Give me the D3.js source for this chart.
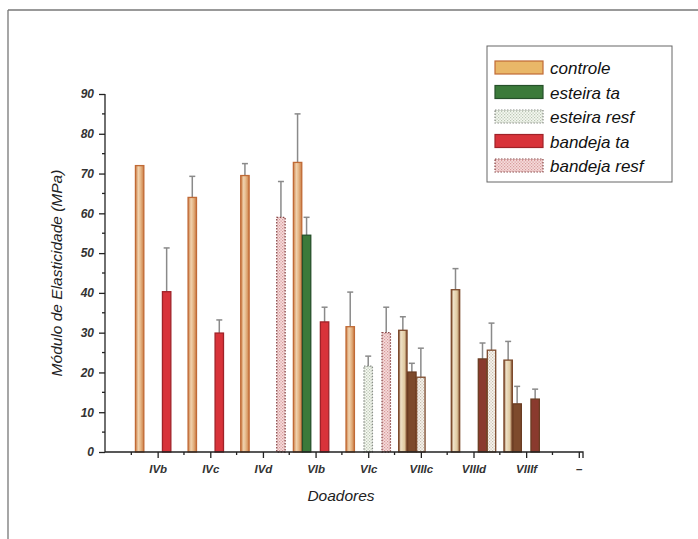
<!DOCTYPE html>
<meta charset="utf-8">
<style>
  body { margin: 0; background: #fff; }
  svg { font-family: "Liberation Sans", Arial, sans-serif; }
  .axis path, .axis line { stroke: #222; stroke-width: 1.3px; }
  .axis text { font-style: italic; font-weight: bold; fill: #333; }
  .errbar { stroke: #8a8a8a; stroke-width: 1.5px; }
</style>
<body>
<svg width="698" height="539"></svg>
<script src="https://d3js.org/d3.v7.min.js"></script>
<script>

// donors (x categories) and the extra empty slot at the end
var categories = ["IVb", "IVc", "IVd", "VIb", "VIc", "VIIIc", "VIIId", "VIIIf"];
var tickLabels = ["IVb", "IVc", "IVd", "VIb", "VIc", "VIIIc", "VIIId", "VIIIf", "–"];
var seriesNames = ["controle", "esteira ta", "esteira resf", "bandeja ta", "bandeja resf"];

// values in MPa, null = not measured
var controle       = [72, 64, 69.5, 72.8, 31.5, 30.6, 40.8, 23.1];
var controleErr    = [0, 5.3, 3, 12.2, 8.7, 3.4, 5.3, 4.7];
var esteiraTa      = [null, null, null, 54.5, null, 20.1, null, 12.1];
var esteiraTaErr   = [null, null, null, 4.5, null, 2.2, null, 4.4];
var esteiraResf    = [null, null, null, null, 21.6, 18.8, null, null];
var esteiraResfErr = [null, null, null, null, 2.5, 7.3, null, null];
var bandejaTa      = [40.3, 29.9, null, 32.7, null, null, 23.4, 13.3];
var bandejaTaErr   = [11, 3.3, null, 3.7, null, null, 4, 2.5];
var bandejaResf    = [null, null, 59, null, 30, null, 25.6, null];
var bandejaResfErr = [null, null, 9, null, 6.4, null, 6.8, null];

var yTicks = [0, 10, 20, 30, 40, 50, 60, 70, 80, 90];

var seriesValues = [controle, esteiraTa, esteiraResf, bandejaTa, bandejaResf];
var seriesErrors = [controleErr, esteiraTaErr, esteiraResfErr, bandejaTaErr, bandejaResfErr];

const svg = d3.select("svg");

// page frame (scanned figure border)
svg.append("line").attr("x1", 8).attr("y1", 10).attr("x2", 698).attr("y2", 10)
  .attr("stroke", "#777").attr("stroke-width", 1.3);
svg.append("line").attr("x1", 8).attr("y1", 10).attr("x2", 8).attr("y2", 539)
  .attr("stroke", "#777").attr("stroke-width", 1.3);

// patterns and gradients
const defs = svg.append("defs");

const grad = defs.append("linearGradient").attr("id", "ctrlGrad")
  .attr("x1", "0").attr("x2", "1").attr("y1", "0").attr("y2", "0");
grad.append("stop").attr("offset", "0%").attr("stop-color", "#cc7d44");
grad.append("stop").attr("offset", "35%").attr("stop-color", "#f0d2ae");
grad.append("stop").attr("offset", "60%").attr("stop-color", "#e6b98a");
grad.append("stop").attr("offset", "100%").attr("stop-color", "#cc7d44");

const gradB = defs.append("linearGradient").attr("id", "ctrlGradBrown")
  .attr("x1", "0").attr("x2", "1").attr("y1", "0").attr("y2", "0");
gradB.append("stop").attr("offset", "0%").attr("stop-color", "#7d4a2c");
gradB.append("stop").attr("offset", "25%").attr("stop-color", "#efe2c8");
gradB.append("stop").attr("offset", "70%").attr("stop-color", "#e0c9a0");
gradB.append("stop").attr("offset", "100%").attr("stop-color", "#7d4a2c");

function dots(id, bg, dot) {
  const p = defs.append("pattern").attr("id", id)
    .attr("width", 3).attr("height", 3).attr("patternUnits", "userSpaceOnUse");
  p.append("rect").attr("width", 3).attr("height", 3).attr("fill", bg);
  p.append("rect").attr("x", 0).attr("y", 0).attr("width", 1.2).attr("height", 1.2).attr("fill", dot);
  p.append("rect").attr("x", 1.5).attr("y", 1.5).attr("width", 1.2).attr("height", 1.2).attr("fill", dot);
}
dots("estResf", "#f6f8f2", "#b9c6b2");
dots("banResf", "#f6dcdc", "#d79a9a");
dots("brownResf", "#f7f4ee", "#c9bfb0");

const normalStyle = [
  { fill: "url(#ctrlGrad)", stroke: "#c06a36", dash: null },
  { fill: "#3b7a3a", stroke: "#26502a", dash: null },
  { fill: "url(#estResf)", stroke: "#8a8f88", dash: "1.5,1.5" },
  { fill: "#d8333a", stroke: "#a02228", dash: null },
  { fill: "url(#banResf)", stroke: "#8a4a4a", dash: "1.5,1.5" }
];
// the last three donors came out brown in the scan
const brownStyle = [
  { fill: "url(#ctrlGradBrown)", stroke: "#7d4a2c", dash: null },
  { fill: "#7d4a2c", stroke: "#6a3c22", dash: null },
  { fill: "url(#brownResf)", stroke: "#7d4a2c", dash: null },
  { fill: "#8a3a2e", stroke: "#6a3c22", dash: null },
  { fill: "url(#brownResf)", stroke: "#7d4a2c", dash: null }
];
function styleFor(ci, si) {
  return categories[ci].indexOf("VIII") === 0 ? brownStyle[si] : normalStyle[si];
}

// scales
const x = d3.scaleLinear().domain([0, 9.08]).range([105, 583]);
const y = d3.scaleLinear().domain([0, 90]).range([452, 94]);
const slot = 0.171;
const barW = x(slot) - x(0) - 0.6;

// bars
const bars = [];
seriesValues.forEach(function(vals, si) {
  vals.forEach(function(v, ci) {
    if (v == null) return;
    bars.push({ ci: ci, si: si, v: v, e: seriesErrors[si][ci] });
  });
});

const barX = d => x(d.ci + 1 + (d.si - 2) * slot) - barW / 2;

// error bars behind the bars
const eg = svg.append("g");
bars.filter(d => d.e > 0).forEach(function(d) {
  const cx = barX(d) + barW / 2;
  eg.append("line").attr("class", "errbar")
    .attr("x1", cx).attr("x2", cx).attr("y1", y(d.v)).attr("y2", y(d.v + d.e));
  eg.append("line").attr("class", "errbar")
    .attr("x1", cx - 3).attr("x2", cx + 3).attr("y1", y(d.v + d.e)).attr("y2", y(d.v + d.e));
});

svg.append("g").selectAll("rect")
  .data(bars)
  .enter().append("rect")
  .attr("x", barX)
  .attr("y", d => y(d.v))
  .attr("width", barW)
  .attr("height", d => y(0) - y(d.v))
  .attr("fill", d => styleFor(d.ci, d.si).fill)
  .attr("stroke", d => styleFor(d.ci, d.si).stroke)
  .attr("stroke-width", 1.3)
  .attr("stroke-dasharray", d => styleFor(d.ci, d.si).dash);

// y axis
const yAxis = d3.axisLeft(y).tickValues(yTicks).tickSize(6).tickPadding(5);
const gy = svg.append("g").attr("class", "axis").attr("transform", "translate(105,0)").call(yAxis);
gy.select(".domain").attr("d", "M0," + y(0) + "V" + y(90));
gy.selectAll("text").style("font-size", "12px");
gy.selectAll(".minor").data(d3.range(5, 90, 10)).enter().append("line")
  .attr("class", "minor").attr("x1", -3).attr("x2", 0)
  .attr("y1", d => y(d)).attr("y2", d => y(d));

// x axis
const xAxis = d3.axisBottom(x).tickValues(d3.range(1, 10))
  .tickFormat((d, i) => tickLabels[i]).tickSize(6).tickPadding(7);
const gx = svg.append("g").attr("class", "axis").attr("transform", "translate(0," + y(0) + ")").call(xAxis);
gx.select(".domain").attr("d", "M105,0H583V6");
gx.selectAll("text").style("font-size", "11.5px").attr("fill", "#444");
gx.selectAll(".minor").data(d3.range(0.5, 9, 1)).enter().append("line")
  .attr("class", "minor").attr("x1", d => x(d)).attr("x2", d => x(d))
  .attr("y1", 0).attr("y2", 3);

// axis titles
svg.append("text")
  .attr("transform", "translate(62,273) rotate(-90)")
  .attr("text-anchor", "middle")
  .style("font-size", "15.5px").style("font-style", "italic").attr("fill", "#222")
  .text("Módulo de Elasticidade (MPa)");

svg.append("text")
  .attr("x", 341).attr("y", 501)
  .attr("text-anchor", "middle")
  .style("font-size", "15.5px").style("font-style", "italic").attr("fill", "#222")
  .text("Doadores");

// legend
const lg = svg.append("g").attr("transform", "translate(487,46)");
lg.append("rect").attr("width", 185).attr("height", 136)
  .attr("fill", "#fff").attr("stroke", "#666").attr("stroke-width", 1);
seriesNames.forEach(function(name, i) {
  const st = normalStyle[i];
  const row = lg.append("g").attr("transform", "translate(8," + (22 + i * 24.5) + ")");
  row.append("rect").attr("x", 0).attr("y", -7).attr("width", 48).attr("height", 13)
    .attr("fill", i === 0 ? "#e9b768" : st.fill)
    .attr("stroke", st.stroke).attr("stroke-width", 1.2)
    .attr("stroke-dasharray", st.dash);
  row.append("text").attr("x", 55).attr("y", 6)
    .style("font-size", "17px").style("font-style", "italic").attr("fill", "#111")
    .text(name);
});

</script>
</body>
